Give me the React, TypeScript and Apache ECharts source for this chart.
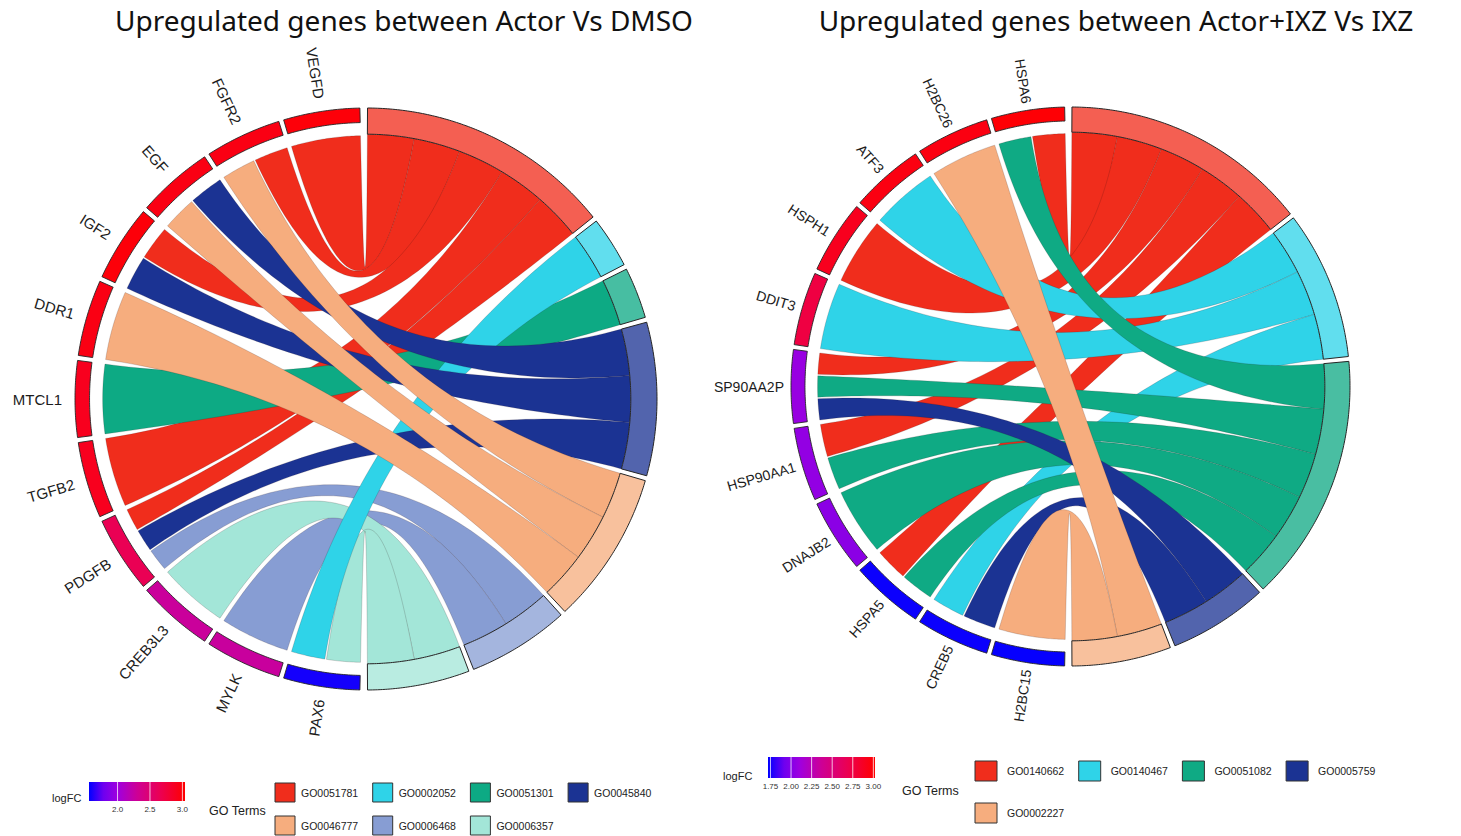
import React, { useEffect, useRef } from 'react';
import * as echarts from 'echarts';

// ---------------- DATA ----------------
const leftTitle = 'Upregulated genes between Actor Vs DMSO';
const rightTitle = 'Upregulated genes between Actor+IXZ Vs IXZ';

const leftGenes = ['VEGFD', 'FGFR2', 'EGF', 'IGF2', 'DDR1', 'MTCL1', 'TGFB2', 'PDGFB', 'CREB3L3', 'MYLK', 'PAX6'];
const leftLogFC = [3.0, 2.95, 2.95, 3.0, 2.95, 2.9, 2.9, 2.65, 2.28, 2.27, 1.6];
const leftTerms = ['GO0051781', 'GO0002052', 'GO0051301', 'GO0045840', 'GO0046777', 'GO0006468', 'GO0006357'];
// term indices each gene belongs to
const leftGeneTerms = [[0], [0, 4], [3, 4], [0, 3], [4], [2], [0], [0, 3, 5], [6], [5], [1, 6]];
const leftTermColors = ['#F02D1C', '#2FD3E8', '#0DAA84', '#1B3393', '#F6AD7E', '#879DD3', '#A3E6D8'];
const leftDrawOrder = [0, 2, 5, 6, 1, 3, 4];
const leftLegendTicks = [2.0, 2.5, 3.0];
const leftLegendRange = [1.56, 3.04];

const rightGenes = ['HSPA6', 'H2BC26', 'ATF3', 'HSPH1', 'DDIT3', 'SP90AA2P', 'HSP90AA1', 'DNAJB2', 'HSPA5', 'CREB5', 'H2BC15'];
const rightLogFC = [3.0, 2.95, 2.95, 2.9, 2.75, 2.08, 2.06, 2.03, 1.74, 1.74, 1.73];
const rightTerms = ['GO0140662', 'GO0140467', 'GO0051082', 'GO0005759', 'GO0002227'];
const rightGeneTerms = [[0, 2], [4], [1], [0], [1], [0, 2, 3], [0, 2], [2], [0, 2], [1, 3], [4]];
const rightTermColors = ['#F02D1C', '#2FD3E8', '#0FAA84', '#1B3393', '#F6AD7E'];
const rightDrawOrder = [0, 1, 2, 3, 4];
const rightLegendTicks = [1.75, 2.0, 2.25, 2.5, 2.75, 3.0];
const rightLegendRange = [1.72, 3.02];

// logFC colour ramp (position in legend range -> rgb)
const logFCStops: [number, number[]][] = [
  [0, [0, 0, 255]],
  [0.15, [110, 0, 240]],
  [0.3, [160, 0, 222]],
  [0.5, [205, 0, 150]],
  [0.75, [236, 0, 80]],
  [1, [255, 0, 0]],
];

// ---------------- HELPERS ----------------
const rad = (d: number) => (d * Math.PI) / 180;
const pol = (r: number, a: number) => [r * Math.cos(rad(a)), r * Math.sin(rad(a))];

function rampColor(v: number, range: number[]) {
  let t = (v - range[0]) / (range[1] - range[0]);
  t = Math.max(0, Math.min(1, t));
  for (let i = 1; i < logFCStops.length; i++) {
    const [p1, c1] = logFCStops[i];
    const [p0, c0] = logFCStops[i - 1];
    if (t <= p1) {
      const f = (t - p0) / (p1 - p0);
      const c = c0.map((x, k) => Math.round(x + (c1[k] - x) * f));
      return `rgb(${c[0]},${c[1]},${c[2]})`;
    }
  }
  return 'rgb(255,0,0)';
}

function lighten(hex: string, a: number) {
  const n = parseInt(hex.slice(1), 16);
  const c = [(n >> 16) & 255, (n >> 8) & 255, n & 255].map((x) => Math.round(x * a + 255 * (1 - a)));
  return `rgb(${c[0]},${c[1]},${c[2]})`;
}

function arcPts(r: number, a0: number, a1: number) {
  const n = Math.max(6, Math.ceil(Math.abs(a1 - a0) * 2));
  const out: number[][] = [];
  for (let i = 0; i <= n; i++) out.push(pol(r, a0 + ((a1 - a0) * i) / n));
  return out;
}

function bez(p0: number[], p2: number[]) {
  const out: number[][] = [];
  const n = 60;
  for (let i = 1; i < n; i++) {
    const s = i / n;
    const a = (1 - s) * (1 - s);
    const b = s * s;
    out.push([a * p0[0] + b * p2[0], a * p0[1] + b * p2[1]]);
  }
  return out;
}

function buildChord(genes: string[], geneTerms: number[][], nTerms: number) {
  const N = genes.length;
  const edgeG = 1.2, gapG = 1.0, edgeT = 0.3, gapT = 1.0, innerGap = 0.35;
  const segW = (180 - 2 * edgeG - (N - 1) * gapG) / N;
  const geneSeg = genes.map((_, i) => {
    const s = 90 + edgeG + i * (segW + gapG);
    return [s, s + segW];
  });
  const counts = new Array(nTerms).fill(0);
  geneTerms.forEach((ts) => ts.forEach((t) => counts[t]++));
  const total = counts.reduce((a, b) => a + b, 0);
  const unit = (180 - 2 * edgeT - (nTerms - 1) * gapT) / total;
  let cur = 90 - edgeT;
  const termSeg = counts.map((c) => {
    const hi = cur;
    const lo = cur - c * unit;
    cur = lo - gapT;
    return [lo, hi];
  });
  const filled = new Array(nTerms).fill(0);
  const ribbons: any[] = [];
  geneTerms.forEach((ts, gi) => {
    const sorted = [...ts].sort((a, b) => a - b);
    const [gs, ge] = geneSeg[gi];
    const k = sorted.length;
    const w = (ge - gs - (k - 1) * innerGap) / k;
    sorted.forEach((t, j) => {
      const g0 = gs + j * (w + innerGap);
      const hi = termSeg[t][1] - filled[t] * unit;
      filled[t]++;
      ribbons.push({ gene: gi, term: t, g0, g1: g0 + w, t0: hi - unit, t1: hi });
    });
  });
  return { geneSeg, termSeg, ribbons };
}

const RG = 0.905; // ribbon radius at gene side
const RT = 0.91; // ribbon radius at term side

function ribbonPts(r: any) {
  const a = arcPts(RG, r.g0, r.g1);
  const b = bez(pol(RG, r.g1), pol(RT, r.t0));
  const c = arcPts(RT, r.t0, r.t1);
  const d = bez(pol(RT, r.t1), pol(RG, r.g0));
  return [...a, ...b, ...c, ...d];
}

function bandPts(r0: number, r1: number, a0: number, a1: number) {
  return [...arcPts(r1, a0, a1), ...arcPts(r0, a1, a0)];
}

function makeSeries(cfg: any, idx: number) {
  const chord = buildChord(cfg.genes, cfg.geneTerms, cfg.terms.length);
  const ribs = [...chord.ribbons].sort(
    (a, b) => cfg.drawOrder.indexOf(a.term) - cfg.drawOrder.indexOf(b.term)
  );
  const common = { type: 'custom', xAxisIndex: idx, yAxisIndex: idx, silent: true, clip: false };
  return [
    {
      ...common,
      name: 'ribbons' + idx,
      data: ribs.map((_, i) => [0, 0, i]),
      renderItem: (params: any, api: any) => {
        const r = ribs[api.value(2)];
        const pts = ribbonPts(r).map((p) => api.coord(p));
        return {
          type: 'polygon',
          shape: { points: pts },
          style: { fill: cfg.termColors[r.term], stroke: 'rgba(40,20,20,0.35)', lineWidth: 0.5 },
        };
      },
    },
    {
      ...common,
      name: 'terms' + idx,
      data: cfg.terms.map((_: any, i: number) => [0, 0, i]),
      renderItem: (params: any, api: any) => {
        const i = api.value(2);
        const [lo, hi] = chord.termSeg[i];
        const pts = bandPts(RT, 1.0, lo, hi).map((p) => api.coord(p));
        return {
          type: 'polygon',
          shape: { points: pts },
          style: { fill: lighten(cfg.termColors[i], 0.76), stroke: '#262626', lineWidth: 1 },
        };
      },
    },
    {
      ...common,
      name: 'genes' + idx,
      data: cfg.genes.map((_: any, i: number) => [0, 0, i]),
      renderItem: (params: any, api: any) => {
        const i = api.value(2);
        const [a0, a1] = chord.geneSeg[i];
        const pts = bandPts(0.95, 1.0, a0, a1).map((p) => api.coord(p));
        const Rpx = api.size([1, 0])[0];
        const mid = (a0 + a1) / 2;
        const lr = 1 + cfg.labelGap / Rpx;
        const lp = api.coord(pol(lr, mid));
        return {
          type: 'group',
          children: [
            {
              type: 'polygon',
              shape: { points: pts },
              style: { fill: rampColor(cfg.logFC[i], cfg.legendRange), stroke: '#262626', lineWidth: 0.9 },
            },
            {
              type: 'text',
              x: lp[0],
              y: lp[1],
              rotation: rad(mid - 180),
              style: {
                text: cfg.genes[i],
                align: 'right',
                verticalAlign: 'middle',
                fontSize: cfg.labelSize,
                fontFamily: 'Liberation Sans, Arial, sans-serif',
                fill: '#1c1c1c',
              },
            },
          ],
        };
      },
    },
  ];
}

function legendGraphics(cfg: any) {
  const els: any[] = [];
  const L = cfg.legend;
  const [vmin, vmax] = cfg.legendRange;
  const xOf = (v: number) => L.barX + ((v - vmin) / (vmax - vmin)) * L.barW;
  els.push({
    type: 'text', left: L.logX, top: L.logY - 7,
    style: { text: 'logFC', fontSize: 11, fontFamily: 'Liberation Sans, Arial', fill: '#222' },
  });
  els.push({
    type: 'rect',
    shape: { x: L.barX, y: L.barY, width: L.barW, height: L.barH },
    style: {
      fill: new echarts.graphic.LinearGradient(0, 0, 1, 0,
        logFCStops.map(([p, c]) => ({ offset: p, color: `rgb(${c[0]},${c[1]},${c[2]})` }))),
    },
  });
  cfg.legendTicks.forEach((v: number) => {
    const x = xOf(v);
    els.push({
      type: 'line',
      shape: { x1: x, y1: L.barY, x2: x, y2: L.barY + L.barH },
      style: { stroke: 'rgba(255,255,255,0.75)', lineWidth: 1 },
    });
    els.push({
      type: 'text', x, y: L.barY + L.barH + 8,
      style: {
        text: cfg.tickFmt(v), align: 'center', verticalAlign: 'middle',
        fontSize: 8, fontFamily: 'Liberation Sans, Arial', fill: '#333',
      },
    });
  });
  els.push({
    type: 'text', x: L.goX, y: L.goY,
    style: { text: 'GO Terms', verticalAlign: 'middle', fontSize: 12.5, fontFamily: 'Liberation Sans, Arial', fill: '#222' },
  });
  cfg.terms.forEach((t: string, i: number) => {
    const col = i % 4;
    const row = Math.floor(i / 4);
    const x = L.itemX + col * L.itemDx;
    const y = L.itemY + row * L.itemDy;
    els.push({
      type: 'rect',
      shape: { x, y, width: L.sq[0], height: L.sq[1] },
      style: { fill: cfg.termColors[i], stroke: '#333', lineWidth: 1 },
    });
    els.push({
      type: 'text', x: x + L.labOff, y: y + L.sq[1] / 2,
      style: { text: t, verticalAlign: 'middle', fontSize: 10.5, fontFamily: 'Liberation Sans, Arial', fill: '#222' },
    });
  });
  return els;
}

const leftCfg = {
  genes: leftGenes, logFC: leftLogFC, terms: leftTerms, geneTerms: leftGeneTerms,
  termColors: leftTermColors, drawOrder: leftDrawOrder, legendTicks: leftLegendTicks,
  legendRange: leftLegendRange, labelGap: 13, labelSize: 15,
  tickFmt: (v: number) => v.toFixed(1),
  grid: { left: 75, top: 108, width: 582, height: 582 },
  legend: {
    logX: 52, logY: 799, barX: 89, barY: 782, barW: 96, barH: 19,
    goX: 209, goY: 811, itemX: 275, itemY: 783, itemDx: 97.7, itemDy: 33, sq: [20, 19], labOff: 26,
  },
};

const rightCfg = {
  genes: rightGenes, logFC: rightLogFC, terms: rightTerms, geneTerms: rightGeneTerms,
  termColors: rightTermColors, drawOrder: rightDrawOrder, legendTicks: rightLegendTicks,
  legendRange: rightLegendRange, labelGap: 7, labelSize: 14,
  tickFmt: (v: number) => v.toFixed(2),
  grid: { left: 791, top: 107, width: 559, height: 559 },
  legend: {
    logX: 723, logY: 777, barX: 768, barY: 757, barW: 107, barH: 21,
    goX: 902, goY: 791, itemX: 975, itemY: 761, itemDx: 103.7, itemDy: 42, sq: [22, 20], labOff: 32,
  },
};

export default function App() {
  const ref = useRef<HTMLDivElement>(null);
  useEffect(() => {
    if (!ref.current) return;
    const chart = echarts.init(ref.current, null, { renderer: 'svg' });
    const cfgs = [leftCfg, rightCfg];
    const option: any = {
      animation: false,
      backgroundColor: '#ffffff',
      title: [
        {
          text: leftTitle, left: 399, top: 1, textAlign: 'center',
          textStyle: { fontFamily: 'Noto Sans', fontSize: 28, fontWeight: 'normal', color: '#111' },
        },
        {
          text: rightTitle, left: 1111, top: 1, textAlign: 'center',
          textStyle: { fontFamily: 'Noto Sans', fontSize: 28, fontWeight: 'normal', color: '#111' },
        },
      ],
      grid: cfgs.map((c) => ({ ...c.grid, containLabel: false })),
      xAxis: cfgs.map((_, i) => ({ type: 'value', gridIndex: i, min: -1, max: 1, show: false })),
      yAxis: cfgs.map((_, i) => ({ type: 'value', gridIndex: i, min: -1, max: 1, show: false })),
      series: [...makeSeries(leftCfg, 0), ...makeSeries(rightCfg, 1)],
      graphic: [...legendGraphics(leftCfg), ...legendGraphics(rightCfg)],
    };
    chart.setOption(option);
    return () => chart.dispose();
  }, []);
  return (
    <div
      ref={ref}
      style={{ position: 'fixed', left: 0, top: 0, width: 1461, height: 836, background: '#fff' }}
    />
  );
}
